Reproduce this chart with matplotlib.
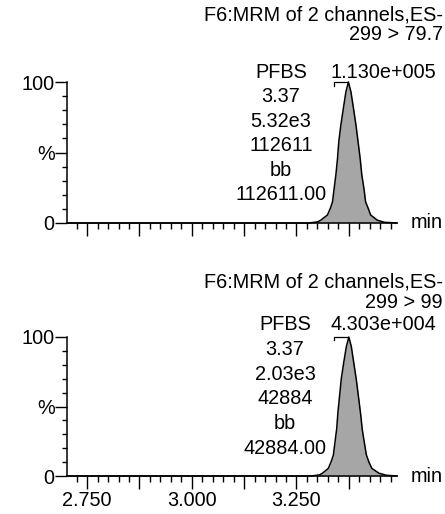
import matplotlib
matplotlib.use('Agg')
import matplotlib.pyplot as plt
from matplotlib.ticker import MultipleLocator, FixedLocator, FixedFormatter

plt.rcParams['font.family'] = ['Liberation Sans', 'DejaVu Sans']

# retention time (min) / relative intensity (%)
top_t = [2.702, 3.280, 3.300, 3.308, 3.324, 3.331, 3.336, 3.340, 3.344, 3.348, 3.351,
         3.356, 3.362, 3.368, 3.374, 3.380, 3.386, 3.392, 3.397, 3.402, 3.406,
         3.411, 3.415, 3.421, 3.427, 3.443, 3.460, 3.490]
top_i = [0, 0, 0.8, 2, 5.7, 10.6, 15, 24.6, 34, 45.9, 57.7,
         69.5, 81.5, 93, 100, 93, 81.5, 69.5, 57.7, 45.9, 34,
         24.6, 15, 10.6, 5.7, 2, 0.5, 0]

bot_t = [2.702, 3.285, 3.305, 3.312, 3.326, 3.333, 3.338, 3.342, 3.346, 3.349, 3.353,
         3.357, 3.363, 3.369, 3.375, 3.381, 3.387, 3.393, 3.398, 3.403, 3.407,
         3.412, 3.417, 3.423, 3.430, 3.447, 3.465, 3.490]
bot_i = [0, 0, 0.8, 2, 5.5, 10.5, 15, 24.5, 34, 46, 58,
         70, 82, 93, 100, 93, 81, 69, 57, 45, 33.5,
         24, 15, 10, 5.5, 2, 0.5, 0]

headers = [('F6:MRM of 2 channels,ES-', '299 > 79.7'),
           ('F6:MRM of 2 channels,ES-', '299 > 99')]
maxima = ['1.130e+005', '4.303e+004']
peak_info = [['PFBS', '3.37', '5.32e3', '112611', 'bb', '112611.00'],
             ['PFBS', '3.37', '2.03e3', '42884', 'bb', '42884.00']]

W, H = 445, 514
fig = plt.figure(figsize=(W / 100, H / 100), dpi=100)
FS = 14.3


def px(x, y):
    return x / W, 1 - y / H


# axes boxes in pixels: left, y of 100%, right, y of 0%
boxes = [(67, 82, 397, 223), (67, 337, 397, 476)]
traces = [(top_t, top_i), (bot_t, bot_i)]
# text rows in pixels
head_y = [(15, 35), (282, 302)]
info_y0 = [72, 325]
info_x = [281, 285]

for k in range(2):
    l, t, r, b = boxes[k]
    ax = fig.add_axes([l / W, 1 - b / H, (r - l) / W, (b - t) / H])
    tt, ii = traces[k]
    ax.fill_between(tt, ii, 0, color='#a6a6a6', lw=0, clip_on=False)
    ax.plot(tt, ii, color='black', lw=1.1, clip_on=False)

    # leader line from the apex
    apex = tt[ii.index(max(ii))]
    ax.plot([apex - 0.035, apex - 0.035, apex - 0.004], [97.5, 100, 100],
            color='black', lw=0.9, clip_on=False)

    ax.set_xlim(2.702, 3.49)
    ax.set_ylim(0, 100)
    for s in ['top', 'right']:
        ax.spines[s].set_visible(False)
    for s in ['left', 'bottom']:
        ax.spines[s].set_linewidth(1.1)

    ax.yaxis.set_major_locator(FixedLocator([0, 50, 100]))
    ax.yaxis.set_major_formatter(FixedFormatter(['0', '%', '100']))
    ax.yaxis.set_minor_locator(MultipleLocator(10))
    ax.xaxis.set_major_locator(MultipleLocator(0.125))
    ax.xaxis.set_minor_locator(MultipleLocator(0.025))
    if k == 1:
        ax.xaxis.set_major_formatter(
            lambda v, p: f'{v:.3f}' if abs(v / 0.25 - round(v / 0.25)) < 1e-6 else '')
    else:
        ax.set_xticklabels([])
    ax.tick_params(axis='y', which='major', length=9, width=1.0, pad=0, labelsize=FS)
    ax.tick_params(axis='y', which='minor', length=3.6, width=1.0)
    ax.tick_params(axis='x', which='major', length=9.5, width=1.0, pad=1, labelsize=FS)
    ax.tick_params(axis='x', which='minor', length=4, width=1.0)

    ax.text(1.04, 0, 'min', transform=ax.transAxes, ha='left', va='center', fontsize=FS)

    h1, h2 = headers[k]
    fig.text(*px(443, head_y[k][0]), h1, ha='right', va='center', fontsize=FS)
    fig.text(*px(443, head_y[k][1]), h2, ha='right', va='center', fontsize=FS)
    fig.text(*px(436, info_y0[k]), maxima[k], ha='right', va='center', fontsize=FS)
    for j, s in enumerate(peak_info[k]):
        fig.text(*px(info_x[k], info_y0[k] + j * 24.6), s, ha='center', va='center',
                 fontsize=FS)

fig.savefig('out.png', dpi=100)
